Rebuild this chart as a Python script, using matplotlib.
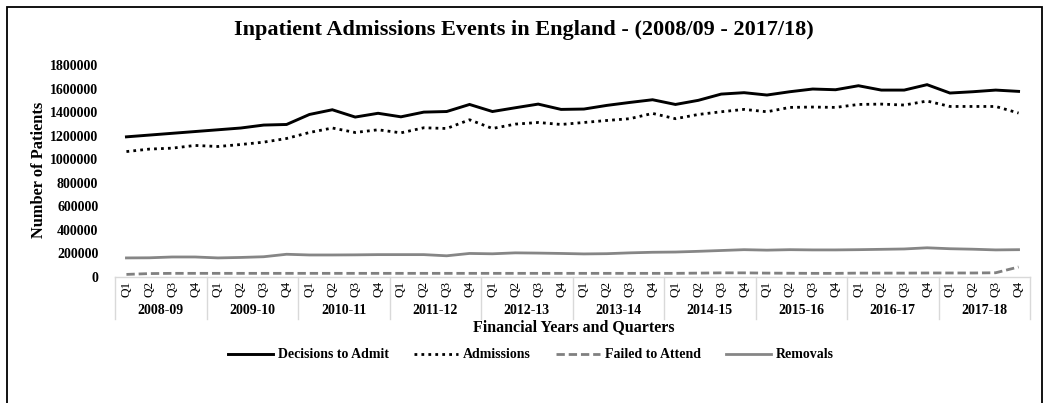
import matplotlib
matplotlib.use("Agg")
import matplotlib.pyplot as plt
from matplotlib.patches import Rectangle
from matplotlib.lines import Line2D
import matplotlib.transforms as mtransforms

plt.rcParams['font.family'] = ['Liberation Serif', 'DejaVu Serif']

years = ["2008-09", "2009-10", "2010-11", "2011-12", "2012-13",
         "2013-14", "2014-15", "2015-16", "2016-17", "2017-18"]
quarters = ["Q1", "Q2", "Q3", "Q4"]

decisions_to_admit = [1190000, 1205000, 1220000, 1235000, 1250000, 1265000, 1290000, 1295000,
                      1380000, 1420000, 1358000, 1390000, 1360000, 1400000, 1405000, 1465000,
                      1405000, 1437000, 1468000, 1423000, 1426000, 1457000, 1482000, 1505000,
                      1465000, 1500000, 1553000, 1565000, 1545000, 1573000, 1596000, 1590000,
                      1624000, 1587000, 1587000, 1633000, 1562000, 1573000, 1587000, 1576000]
admissions = [1065000, 1086000, 1094000, 1117000, 1108000, 1125000, 1145000, 1176000,
              1227000, 1265000, 1227000, 1250000, 1224000, 1267000, 1261000, 1335000,
              1261000, 1298000, 1312000, 1295000, 1312000, 1329000, 1344000, 1389000,
              1344000, 1380000, 1403000, 1423000, 1403000, 1440000, 1443000, 1440000,
              1465000, 1468000, 1460000, 1494000, 1448000, 1448000, 1448000, 1392000]
failed_to_attend = [22000, 29000, 31000, 31000, 31000, 31000, 31000, 31000,
                    31000, 31000, 31000, 31000, 31000, 31000, 31000, 31000,
                    31000, 31000, 31000, 31000, 31000, 31000, 31000, 31000,
                    31000, 33000, 35000, 35000, 33000, 32000, 31000, 31000,
                    33000, 33000, 33000, 34000, 34000, 34000, 36000, 85000]
removals = [162000, 163000, 170000, 170000, 162000, 166000, 172000, 193000,
            187000, 187000, 188000, 190000, 190000, 190000, 180000, 200000,
            197000, 205000, 203000, 200000, 196000, 198000, 205000, 210000,
            212000, 218000, 225000, 232000, 228000, 232000, 230000, 230000,
            232000, 235000, 238000, 248000, 240000, 236000, 230000, 232000]

W, H = 1047, 403
fig = plt.figure(figsize=(W / 100, H / 100), dpi=100)
fig.patch.set_facecolor("white")

# outer frame
fig.patches.append(Rectangle((7 / W, -0.05), (1042 - 7) / W, 1.05 - 7 / H,
                             transform=fig.transFigure, fill=False,
                             edgecolor="black", linewidth=1.3))

ax = fig.add_axes([115 / W, 1 - 277 / H, (1030 - 115) / W, (277 - 65) / H])

x = list(range(len(decisions_to_admit)))
ax.plot(x, decisions_to_admit, color="black", lw=2.1, solid_joinstyle="miter",
        label="Decisions to Admit")
ax.plot(x, admissions, color="black", lw=2.0, linestyle=(0, (1, 1.5)),
        label="Admissions")
ax.plot(x, failed_to_attend, color="#808080", lw=2.0, linestyle=(0, (3, 1.4)),
        label="Failed to Attend")
ax.plot(x, removals, color="#868686", lw=2.0, label="Removals")

ax.set_xlim(-0.5, len(x) - 0.5)
ax.set_ylim(0, 1800000)
ax.set_yticks(range(0, 1800001, 200000))
ax.set_yticklabels([str(v) for v in range(0, 1800001, 200000)],
                   fontsize=10, fontweight="bold")
ax.tick_params(axis="y", length=0, pad=12)

ax.set_xticks(x)
ax.set_xticklabels(quarters * len(years), rotation=90, fontsize=9.5)
ax.tick_params(axis="x", length=0, pad=3)

for s in ["top", "right", "left"]:
    ax.spines[s].set_visible(False)
ax.spines["bottom"].set_color("#d9d9d9")
ax.spines["bottom"].set_linewidth(1.0)

# year group labels and separators beneath the quarter labels
trans = mtransforms.blended_transform_factory(ax.transData, ax.transAxes)
for i, yr in enumerate(years):
    ax.text(i * 4 + 1.5, -0.16, yr, transform=trans, ha="center", va="center",
            fontsize=10, fontweight="bold")
for b in range(len(years) + 1):
    ax.add_line(Line2D([b * 4 - 0.5, b * 4 - 0.5], [0, -0.2], transform=trans,
                       color="#d9d9d9", lw=1.0, clip_on=False))

fig.text(0.5, 1 - 30 / H, "Inpatient Admissions Events in England - (2008/09 - 2017/18)",
         ha="center", va="center", fontsize=16, fontweight="bold")
fig.text(39 / W, 1 - 170 / H, "Number of Patients", rotation=90,
         ha="center", va="center", fontsize=11.8, fontweight="bold")
fig.text(574 / W, 1 - 327 / H, "Financial Years and Quarters",
         ha="center", va="center", fontsize=11.5, fontweight="bold")

fig.legend(loc="center", bbox_to_anchor=(531 / W, 1 - 355 / H), ncol=4,
           frameon=False, prop={"weight": "bold", "size": 10},
           handlelength=3.2, columnspacing=1.8, handletextpad=0.36)

fig.savefig("out.png", dpi=100)
